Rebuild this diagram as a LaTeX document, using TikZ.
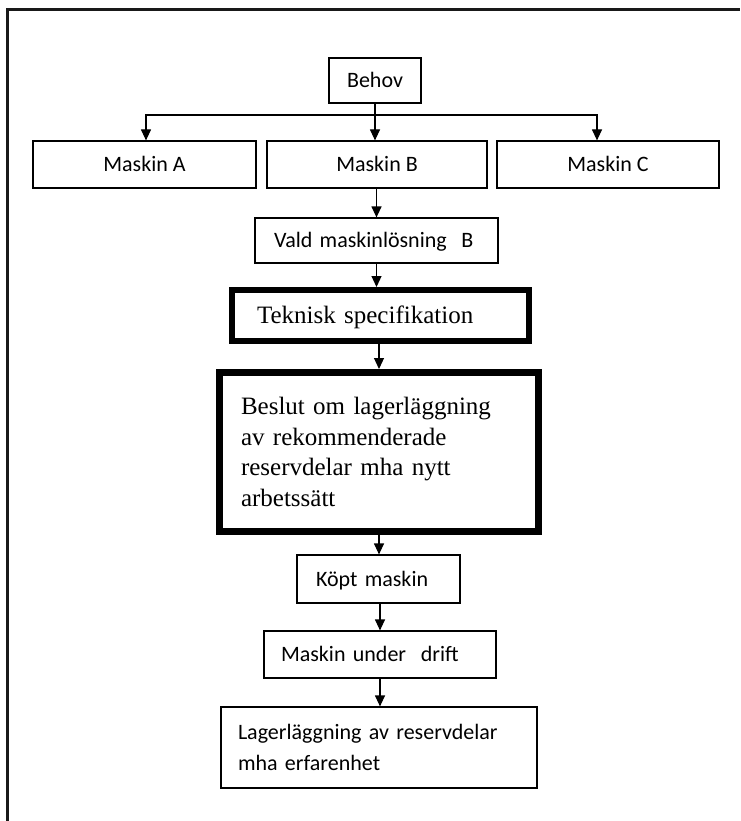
\documentclass[tikz,border=0pt]{standalone}
\usepackage{fontspec}
\setmainfont{Liberation Serif}
\newfontfamily\boxsans{Carlito}
\usetikzlibrary{arrows.meta}
\begin{document}
\begin{tikzpicture}[x=1pt,y=-1pt,
  sansfont/.style={font=\boxsans\fontsize{22}{31}\selectfont},
  seriffont/.style={font=\fontsize{25}{30.5}\selectfont},
  thinbox/.style={draw=black, line width=1.2pt, inner sep=0pt, sansfont,
    text height=14.2pt, text depth=0pt},
  thickbox/.style={draw=black, inner sep=0pt, seriffont},
  flow/.style={draw=black, line width=1.2pt, -{Triangle[length=11pt,width=10pt]}},
  frameline/.style={draw=black!90, line width=2.7pt, line join=miter}
]
\useasboundingbox (0,0) rectangle (740,821);

% open frame: top and left edges only
\coordinate (frameBL) at (7.3,821);
\coordinate (frameTL) at (7.3,9.7);
\coordinate (frameTR) at (740,9.7);
\draw[frameline] (frameBL) -- (frameTL) -- (frameTR);

% boxes
\node[thinbox, minimum width=92pt, minimum height=45pt] (behov) at (375,80.5) {Behov};
\node[thinbox, minimum width=223pt, minimum height=47pt] (ma) at (144.5,164.5) {Maskin A};
\node[thinbox, minimum width=220pt, minimum height=47pt] (mb) at (377,164.5) {Maskin B};
\node[thinbox, minimum width=222pt, minimum height=47pt] (mc) at (608,164.5) {Maskin C};
\node[thinbox, minimum height=45pt, inner xsep=19pt, text width=205pt, align=left]
  (vald) at (376.5,240.5) {Vald maskinlösning\ \ B};
\node[thickbox, line width=6pt, minimum height=51pt, inner xsep=25pt, text width=247pt,
  align=left, text height=16.5pt, text depth=0pt]
  (tek) at (380.5,315.5) {Teknisk specifikation};
\node[thickbox, line width=7pt, minimum height=159pt, inner xsep=21.5pt, text width=276pt,
  align=left]
  (beslut) at (379,452) {Beslut om lagerläggning\\av rekommenderade\\reservdelar mha nytt\\arbetssätt};
\node[thinbox, minimum height=48pt, inner xsep=19pt, text width=125pt, align=left]
  (kopt) at (378.5,579) {Köpt maskin};
\node[thinbox, minimum height=47pt, inner xsep=17pt, text width=198pt, align=left]
  (drift) at (380,654.5) {Maskin under\ \ drift};
\node[draw=black, line width=1.2pt, inner sep=0pt, sansfont, minimum height=81pt,
  inner xsep=17pt, text width=282pt, align=left]
  (lager) at (379,747.5) {Lagerläggning av reservdelar\\mha erfarenhet};

% connectors
\coordinate (split) at (behov.south |- 0,115);
\draw[line width=1.2pt] (behov.south) -- (split);
\draw[flow] (split) -| ([xshift=1.5pt]ma.north);
\draw[flow] (split) -- (split |- mb.north);
\draw[flow] (split) -| ([xshift=-11pt]mc.north);
\draw[flow] (mb.south -| vald.north) -- (vald.north);
\draw[flow] (vald.south) -- (vald.south |- tek.north);
\draw[flow] (tek.south -| beslut.north) -- (beslut.north);
\draw[flow] (beslut.south) -- (beslut.south |- kopt.north);
\draw[flow] (kopt.south -| drift.north) -- (drift.north);
\draw[flow] (drift.south) -- (drift.south |- lager.north);
\end{tikzpicture}
\end{document}
